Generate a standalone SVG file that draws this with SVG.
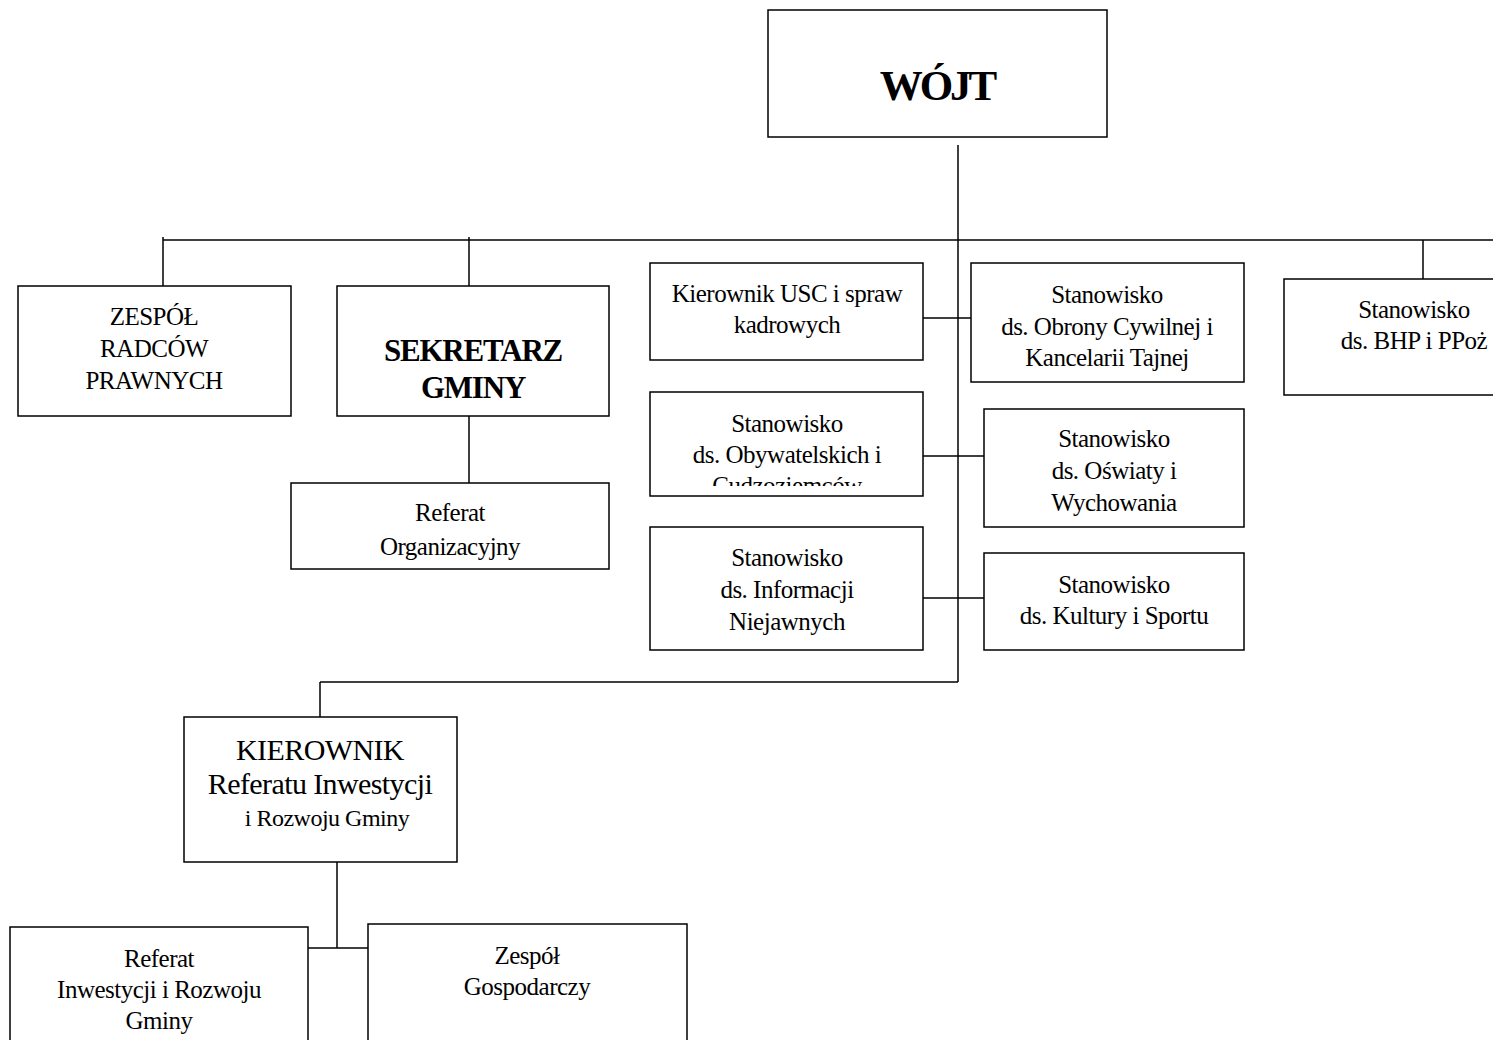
<svg xmlns="http://www.w3.org/2000/svg" width="1493" height="1040" viewBox="0 0 1493 1040">
<style>
.box{fill:#fff;stroke:#000;stroke-width:1.5}
.t{font-family:"Liberation Serif","Times New Roman",serif;font-size:25px;text-anchor:middle;fill:#000;letter-spacing:-0.5px}
.b{font-weight:bold}
.big{font-size:30px;letter-spacing:-0.6px}
.ln{stroke:#000;stroke-width:1.5;fill:none}
</style>
<defs><clipPath id="clipObyw"><rect x="650" y="392" width="273" height="94"/></clipPath></defs>
<rect width="1493" height="1040" fill="#fff"/>
<g id="connectors">
<line class="ln" x1="958" y1="145" x2="958" y2="682"/>
<line class="ln" x1="163" y1="240" x2="1493" y2="240"/>
<line class="ln" x1="163" y1="237" x2="163" y2="286"/>
<line class="ln" x1="469" y1="237" x2="469" y2="286"/>
<line class="ln" x1="1423" y1="240" x2="1423" y2="279"/>
<line class="ln" x1="469" y1="416" x2="469" y2="483"/>
<line class="ln" x1="923" y1="318" x2="971" y2="318"/>
<line class="ln" x1="923" y1="456" x2="984" y2="456"/>
<line class="ln" x1="923" y1="598" x2="984" y2="598"/>
<line class="ln" x1="320" y1="682" x2="958" y2="682"/>
<line class="ln" x1="320" y1="682" x2="320" y2="717"/>
<line class="ln" x1="337" y1="862" x2="337" y2="948"/>
<line class="ln" x1="308" y1="948" x2="368" y2="948"/>
</g>
<g id="wojt"><rect class="box" x="768" y="10" width="339" height="127"/><text class="t b" x="937" y="100" style="font-size:43px;letter-spacing:-3px">WÓJT</text></g>
<g id="zespol-radcow"><rect class="box" x="18" y="286" width="273" height="130"/><text class="t" x="154" y="325">ZESPÓŁ</text><text class="t" x="154" y="357">RADCÓW</text><text class="t" x="154" y="389">PRAWNYCH</text></g>
<g id="sekretarz"><rect class="box" x="337" y="286" width="272" height="130"/><text class="t b" x="473" y="361" style="font-size:31px;letter-spacing:-1.2px">SEKRETARZ</text><text class="t b" x="473" y="398" style="font-size:31px;letter-spacing:-1.2px">GMINY</text></g>
<g id="referat-org"><rect class="box" x="291" y="483" width="318" height="86"/><text class="t" x="450" y="521">Referat</text><text class="t" x="450" y="555">Organizacyjny</text></g>
<g id="kierownik-usc"><rect class="box" x="650" y="263" width="273" height="97"/><text class="t" x="787" y="302">Kierownik USC i spraw</text><text class="t" x="787" y="333">kadrowych</text></g>
<g id="obrony"><rect class="box" x="971" y="263" width="273" height="119"/><text class="t" x="1107" y="303">Stanowisko</text><text class="t" x="1107" y="335">ds. Obrony Cywilnej i</text><text class="t" x="1107" y="366">Kancelarii Tajnej</text></g>
<g id="obywatelskich"><rect class="box" x="650" y="392" width="273" height="104"/><text class="t" x="787" y="432">Stanowisko</text><text class="t" x="787" y="463">ds. Obywatelskich i</text><text class="t" x="787" y="494" clip-path="url(#clipObyw)">Cudzoziemców</text></g>
<g id="oswiaty"><rect class="box" x="984" y="409" width="260" height="118"/><text class="t" x="1114" y="447">Stanowisko</text><text class="t" x="1114" y="479">ds. Oświaty i</text><text class="t" x="1114" y="511">Wychowania</text></g>
<g id="informacji"><rect class="box" x="650" y="527" width="273" height="123"/><text class="t" x="787" y="566">Stanowisko</text><text class="t" x="787" y="598">ds. Informacji</text><text class="t" x="787" y="630">Niejawnych</text></g>
<g id="kultury"><rect class="box" x="984" y="553" width="260" height="97"/><text class="t" x="1114" y="593">Stanowisko</text><text class="t" x="1114" y="624">ds. Kultury i Sportu</text></g>
<g id="bhp"><rect class="box" x="1284" y="279" width="220" height="116"/><text class="t" x="1414" y="318">Stanowisko</text><text class="t" x="1414" y="349">ds. BHP i PPoż</text></g>
<g id="kierownik-ref"><rect class="box" x="184" y="717" width="273" height="145"/><text class="t big" x="320" y="760">KIEROWNIK</text><text class="t big" x="320" y="794">Referatu Inwestycji</text><text class="t" x="327" y="826" style="font-size:24px">i Rozwoju Gminy</text></g>
<g id="referat-inw"><rect class="box" x="10" y="927" width="298" height="120"/><text class="t" x="159" y="967">Referat</text><text class="t" x="159" y="998">Inwestycji i Rozwoju</text><text class="t" x="159" y="1029">Gminy</text></g>
<g id="zespol-gosp"><rect class="box" x="368" y="924" width="319" height="123"/><text class="t" x="527" y="964">Zespół</text><text class="t" x="527" y="995">Gospodarczy</text></g>
</svg>
